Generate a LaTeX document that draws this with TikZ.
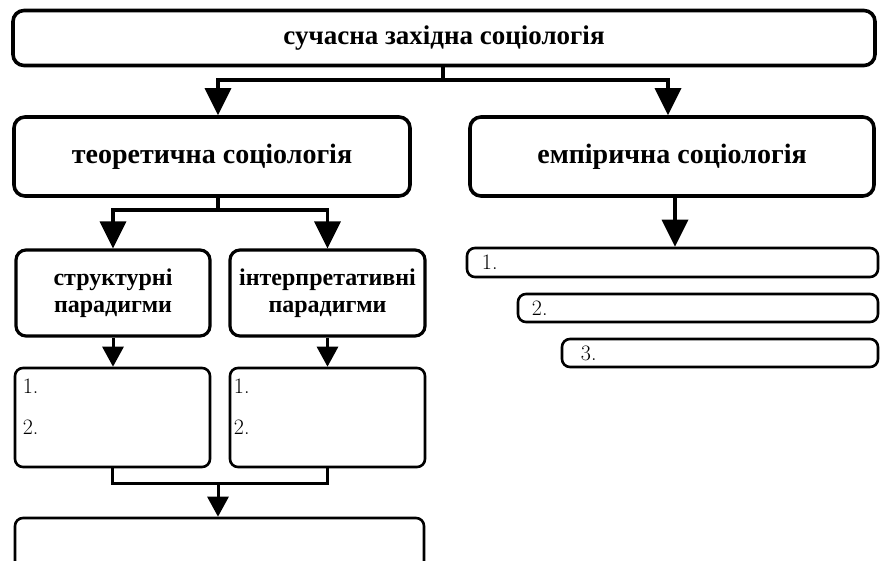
\documentclass[tikz,border=0pt]{standalone}
\usepackage{fontspec}
\setmainfont{Liberation Serif}
\usetikzlibrary{arrows.meta}
\tikzset{
  bigbox/.style={draw, line width=3.6pt, rounded corners=11pt, inner sep=0pt, align=center,
    font=\bfseries\fontsize{28}{32}\selectfont},
  parbox/.style={draw, line width=3.2pt, rounded corners=10pt, inner sep=0pt, align=center,
    font=\bfseries\fontsize{24}{27}\selectfont},
  listbox/.style={draw, line width=2.6pt, rounded corners=8pt, inner sep=0pt},
  numtext/.style={anchor=west, inner sep=0pt, font=\fontfamily{lmr}\fontsize{22}{26}\selectfont},
  bigline/.style={line width=3.6pt},
  bigarrow/.style={line width=3.6pt, -{Triangle[width=26pt,length=27pt]}},
  midline/.style={line width=3pt},
  midarrow/.style={line width=3pt, -{Triangle[width=21pt,length=20pt]}},
}
\begin{document}
\begin{tikzpicture}[x=1pt,y=-1pt]
\useasboundingbox (0,0) rectangle (881,561);
% boxes
\node[bigbox, minimum width=862pt, minimum height=55pt, font=\bfseries\fontsize{27}{30}\selectfont] (top) at (444,38) {сучасна західна соціологія};
\node[bigbox, minimum width=396pt, minimum height=79pt] (theo) at (212,156.5) {теоретична соціологія};
\node[bigbox, minimum width=404pt, minimum height=79pt] (emp) at (672,156.5) {емпірична соціологія};
\node[parbox, minimum width=194pt, minimum height=86pt] (str) at (113,293) {структурні\\парадигми};
\node[parbox, minimum width=195pt, minimum height=86pt] (int) at (327.5,293) {інтерпретативні\\парадигми};
\node[listbox, minimum width=195pt, minimum height=99pt] (sl) at (112.5,417.5) {};
\node[listbox, minimum width=195pt, minimum height=99pt] (il) at (327.5,417.5) {};
\node[listbox, minimum width=409pt, minimum height=62pt] (bot) at (219.5,549) {};
\node[listbox, minimum width=411pt, minimum height=29pt] (e1) at (672.5,262.5) {};
\node[listbox, minimum width=360pt, minimum height=28pt] (e2) at (698,308) {};
\node[listbox, minimum width=316pt, minimum height=28pt] (e3) at (720,353) {};
% numbers
\node[numtext] (sl1) at ([xshift=9pt,yshift=-20pt]sl.north west) {1.};
\node[numtext] (sl2) at ([xshift=9pt,yshift=-61pt]sl.north west) {2.};
\node[numtext] (il1) at ([xshift=5pt,yshift=-20pt]il.north west) {1.};
\node[numtext] (il2) at ([xshift=5pt,yshift=-61pt]il.north west) {2.};
\node[numtext] (e1n) at ([xshift=16pt]e1.west) {1.};
\node[numtext] (e2n) at ([xshift=15pt]e2.west) {2.};
\node[numtext] (e3n) at ([xshift=20pt]e3.west) {3.};
% connectors top level
\coordinate (j1) at (443,80);
\draw[bigline] (top.south -| j1) -- (j1);
\draw[bigarrow] (j1) -| ([xshift=6pt]theo.north);
\draw[bigarrow] (j1) -| ([xshift=-4pt]emp.north);
% theory -> paradigms
\coordinate (j2) at (218,210);
\draw[bigline] (theo.south -| j2) -- (j2);
\draw[bigarrow] (j2) -| (str.north);
\draw[bigarrow] (j2) -| (int.north);
% empirical -> list
\draw[bigarrow] ([xshift=3pt]emp.south) -- ([xshift=3pt]emp.south |- e1.north);
% paradigms -> lists
\draw[midarrow] (str.south) -- (sl.north -| str.south);
\draw[midarrow] (int.south) -- (il.north -| int.south);
% merge
\coordinate (j3) at (218,483);
\draw[midline] (sl.south) |- (j3) -| (il.south);
\draw[midarrow] (j3) -- (j3 |- bot.north);
\end{tikzpicture}
\end{document}
